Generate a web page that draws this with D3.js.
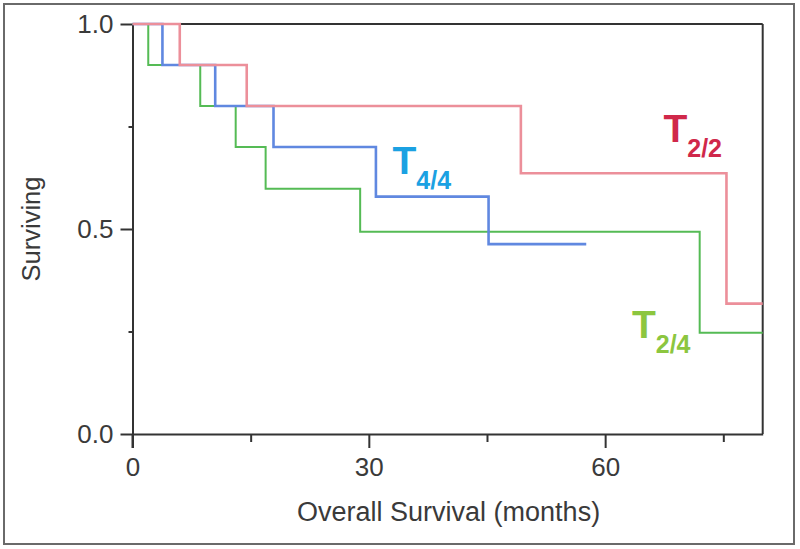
<!DOCTYPE html>
<html>
<head>
<meta charset="utf-8">
<script src="https://cdn.jsdelivr.net/npm/d3@7/dist/d3.min.js"></script>
<style>
  html, body { margin: 0; padding: 0; background: #fff; }
  svg { display: block; }
  text { font-family: "Liberation Sans", Arial, sans-serif; }
</style>
</head>
<body>
<svg id="chart" width="800" height="549"></svg>
<script>
// ---- Data ----
const t22Times = [0, 6.0, 14.5, 49.3, 75.4, 80];
const t22Surv  = [1, 0.9, 0.8, 0.636, 0.318, 0.318];

const t44Times = [0, 3.8, 10.5, 17.9, 30.9, 45.2, 57.6];
const t44Surv  = [1, 0.9, 0.8, 0.7, 0.579, 0.463, 0.463];

const t24Times = [0, 2.0, 8.6, 13.1, 16.9, 28.9, 72.0, 80];
const t24Surv  = [1, 0.9, 0.8, 0.7, 0.598, 0.493, 0.247, 0.247];

const xMajorTicks = [0, 30, 60];
const xMinorTicks = [15, 45, 75];
const yMajorTicks = [0, 0.5, 1.0];
const yMinorTicks = [0.25, 0.75];

const xTitle = "Overall Survival (months)";
const yTitle = "Surviving";

const seriesLabels = [
  { main: "T", sub: "2/2", color: "#d0284a", t: 67.4, s: 0.712 },
  { main: "T", sub: "4/4", color: "#1ba1e2", t: 33.0, s: 0.635 },
  { main: "T", sub: "2/4", color: "#8cc63f", t: 63.4, s: 0.233 }
];

// ---- Chart ----
const svg = d3.select("#chart");
const x = d3.scaleLinear().domain([0, 80]).range([132.5, 762.7]);
const y = d3.scaleLinear().domain([0, 1]).range([434, 24]);

// outer border
svg.append("rect")
  .attr("x", 4).attr("y", 4).attr("width", 790).attr("height", 540)
  .attr("fill", "#fff").attr("stroke", "#6a6a6a").attr("stroke-width", 2);

const axisColor = "#333";

// frame top / right
svg.append("line")
  .attr("x1", x(0)).attr("x2", x(80)).attr("y1", y(1)).attr("y2", y(1))
  .attr("stroke", axisColor).attr("stroke-width", 2);
svg.append("line")
  .attr("x1", x(80)).attr("x2", x(80)).attr("y1", y(1)).attr("y2", y(0))
  .attr("stroke", axisColor).attr("stroke-width", 2);

// x axis
const gx = svg.append("g").attr("transform", `translate(0,${y(0)})`);
gx.call(d3.axisBottom(x).tickValues(xMajorTicks).tickSize(14).tickSizeOuter(0).tickPadding(10).tickFormat(d3.format("d")));
const gxm = svg.append("g").attr("transform", `translate(0,${y(0)})`);
gxm.call(d3.axisBottom(x).tickValues(xMinorTicks).tickSize(8).tickSizeOuter(0).tickFormat(""));
gxm.select(".domain").remove();

// y axis
const gy = svg.append("g").attr("transform", `translate(${x(0)},0)`);
gy.call(d3.axisLeft(y).tickValues(yMajorTicks).tickSize(12).tickSizeOuter(0).tickPadding(7).tickFormat(d3.format(".1f")));
const gym = svg.append("g").attr("transform", `translate(${x(0)},0)`);
gym.call(d3.axisLeft(y).tickValues(yMinorTicks).tickSize(4).tickSizeOuter(0).tickFormat(""));
gym.select(".domain").remove();

[gx, gxm, gy, gym].forEach(g => {
  g.selectAll(".domain, line").attr("stroke", axisColor).attr("stroke-width", 2);
  g.selectAll("text").attr("fill", "#3a3a3a").attr("font-size", 26)
    .attr("font-family", "'Liberation Sans', Arial, sans-serif");
});
// extend y axis line slightly below x axis like the reference
svg.append("line")
  .attr("x1", x(0)).attr("x2", x(0)).attr("y1", y(0)).attr("y2", y(0) + 14)
  .attr("stroke", axisColor).attr("stroke-width", 2);

// axis titles
svg.append("text")
  .attr("x", (x(0) + x(80)) / 2 + 1).attr("y", 521)
  .attr("text-anchor", "middle").attr("font-size", 27).attr("fill", "#3a3a3a")
  .text(xTitle);
svg.append("text")
  .attr("transform", `translate(40,${y(0.5)}) rotate(-90)`)
  .attr("text-anchor", "middle").attr("font-size", 25.5).attr("fill", "#3a3a3a")
  .text(yTitle);

// survival curves
const line = d3.line().x(d => x(d[0])).y(d => y(d[1])).curve(d3.curveStepAfter);
const curves = [
  { times: t24Times, surv: t24Surv, color: "#55bb55", width: 2 },
  { times: t44Times, surv: t44Surv, color: "#6088e0", width: 2.6 },
  { times: t22Times, surv: t22Surv, color: "#ec8f9a", width: 2.6 }
];
curves.forEach(c => {
  svg.append("path")
    .datum(c.times.map((t, i) => [t, c.surv[i]]))
    .attr("d", line)
    .attr("fill", "none")
    .attr("stroke", c.color)
    .attr("stroke-width", c.width);
});

// series labels
seriesLabels.forEach(l => {
  const tx = svg.append("text")
    .attr("x", x(l.t)).attr("y", y(l.s))
    .attr("fill", l.color).attr("font-weight", "bold").attr("font-size", 39);
  tx.append("tspan").text(l.main);
  tx.append("tspan").attr("dy", 15).attr("font-size", 25).text(l.sub);
});
</script>
</body>
</html>
